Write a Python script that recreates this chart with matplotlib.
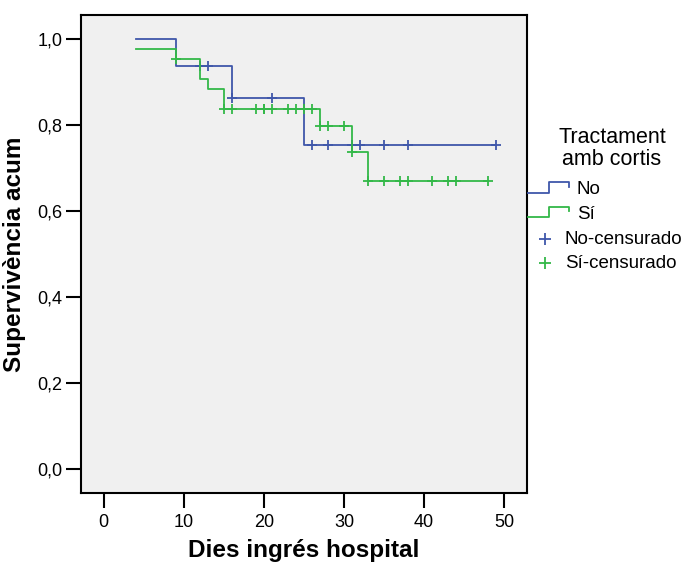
import numpy as np
import matplotlib

matplotlib.use("Agg")
import matplotlib.pyplot as plt

plt.rcParams.update({
    "font.family": ["Liberation Sans", "DejaVu Sans"],
    "axes.linewidth": 1.5,
})

W, H = 691, 563

# Kaplan-Meier steps: time of each step and survival level after it
no_times = [4, 9, 16, 25, 49]
no_surv = [1.0, 0.938, 0.862, 0.753, 0.753]
no_cens = [12, 13, 16, 21, 26, 28, 31, 32, 35, 38, 49]

si_times = [4, 9, 12, 13, 15, 27, 31, 33, 48]
si_surv = [0.977, 0.954, 0.908, 0.884, 0.838, 0.798, 0.737, 0.670, 0.670]
si_cens = [9, 15, 16, 19, 20, 20, 21, 23, 24, 25, 26, 27, 28, 30, 31,
           33, 35, 37, 38, 41, 43, 44, 48]

x_ticks = [0, 10, 20, 30, 40, 50]
y_ticks = [0.0, 0.2, 0.4, 0.6, 0.8, 1.0]

BLUE = "#3f57aa"
GREEN = "#33b848"


def surv_at(times, surv, t):
    idx = np.searchsorted(times, t, side="right") - 1
    return np.asarray(surv)[idx]


def px(x, y):
    return x / W, 1 - y / H


fig = plt.figure(figsize=(W / 100, H / 100), dpi=100)
ax = fig.add_axes([80.7 / W, 1 - 493 / H, 446 / W, 478 / H])
ax.set_facecolor("#f0f0f0")

for times, surv, cens, col in [(no_times, no_surv, no_cens, BLUE),
                               (si_times, si_surv, si_cens, GREEN)]:
    ax.step(times, surv, where="post", color=col, lw=1.3)
    ax.plot(cens, surv_at(times, surv, cens), ls="none", marker="+",
            ms=7, mew=1.3, color=col)

ax.set_xlim(-2.87, 52.8)
ax.set_ylim(-0.056, 1.056)
ax.set_xticks(x_ticks)
ax.set_xticklabels([str(t) for t in x_ticks])
ax.set_yticks(y_ticks)
ax.set_yticklabels([f"{t:.1f}".replace(".", ",") for t in y_ticks])
ax.tick_params(direction="out", length=11, width=1.5, labelsize=13,
               pad=2, colors="black")
ax.tick_params(axis="x", pad=4)

ax.set_xlabel("Dies ingrés hospital", fontsize=17.5, fontweight="bold",
              labelpad=6)
ax.set_ylabel("Supervivència acum", fontsize=17.5, fontweight="bold",
              labelpad=8)

# legend drawn by hand at the right of the axes
fig.text(*px(612, 143), "Tractament", fontsize=15.5, ha="center",
         va="baseline")
fig.text(*px(612, 165), "amb cortis", fontsize=15.5, ha="center",
         va="baseline")

for y0, col, label in [(192.7, BLUE, "No"), (217.3, GREEN, "Sí")]:
    xs = [528, 549, 549, 569, 569]
    ys = [y0, y0, y0 - 10.4, y0 - 10.4, y0 - 6]
    fig.add_artist(plt.Line2D([x / W for x in xs], [1 - y / H for y in ys],
                              color=col, lw=1.3))
    fig.text(*px(577, y0 - 3), label, fontsize=13.5, va="center")

for y0, col, label in [(239, BLUE, "No-censurado"),
                       (263, GREEN, "Sí-censurado")]:
    fig.add_artist(plt.Line2D([545 / W], [1 - y0 / H], marker="+", ms=8.5,
                              mew=1.3, color=col, ls="none"))
    fig.text(*px(565, y0), label, fontsize=13.5, va="center")

fig.savefig("out.png", dpi=100, facecolor="white")
